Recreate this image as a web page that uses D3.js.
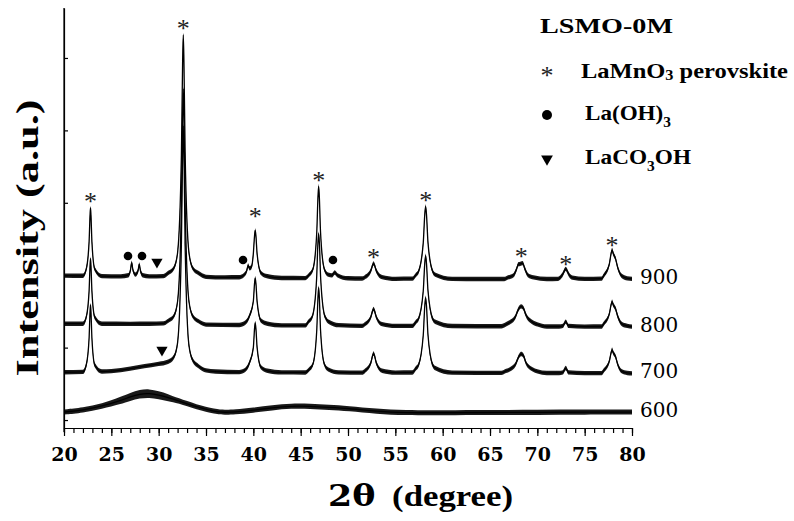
<!DOCTYPE html>
<html lang="en">
<head>
  <meta charset="utf-8"/>
  <script src="https://cdn.jsdelivr.net/npm/d3@7/dist/d3.min.js"></script>
  <style>
    body { margin: 0; background: #fff; }
    svg { display: block; }
    .trace { fill: none; stroke: #000; stroke-width: 1.3px; stroke-linejoin: round; }
    .noise { fill: #000; }
    .axis path, .axis line { stroke: #000; stroke-width: 1.2px; }
    .tick-label { font-family: "DejaVu Serif", serif; font-weight: bold; font-size: 19px; fill: #000; }
    .temp-label { font-family: "DejaVu Serif", serif; font-size: 20px; fill: #000; }
    .bold-serif { font-family: "Liberation Serif", "Times New Roman", serif; font-weight: bold; fill: #000; }
    .star { font-family: "Liberation Serif", serif; font-size: 26px; fill: #222; }
  </style>
</head>
<body>
<div id="chart"></div>
<script>
// 2-theta range and tick values
const thetaDomain = [20, 80];
const majorTicks = [20, 25, 30, 35, 40, 45, 50, 55, 60, 65, 70, 75, 80];
const intensityTicks = [0, 1000, 2000, 3000, 4000, 5000];

// sample temperatures, vertical offsets of their patterns (counts), noise half-amplitude
const temps = ["600", "700", "800", "900"];
const offsets = [0, 600, 1250, 1900];
const noiseAmp = [35, 30, 30, 30];

// patterns: [2theta, intensity above offset, (noise)]
const t600 = [[20,110],[22,135],[24,190],[26,270,50],[27,320,55],[28,360,60],[29,370,60],[30,345,55],
  [31,310,50],[32,270],[34,180],[36,115],[37,105],[38,110],[40,135],[42,170],[44,195],[46,190],[48,175],
  [50,160],[53,120],[56,100],[60,100],[65,105],[70,105],[75,110],[80,110]];

const t700 = [[20,60],[22.0,65],
  [22.35,160],[22.65,530],[22.75,890],[22.8,990],[22.85,890],[22.95,530],[23.25,160],
  [24,70],[26,90],[27,110],[28.5,145],[30,175],[31.0,205],[31.6,270],[32.0,470],[32.4,1820],[32.53,3100],
  [32.6,3460],[32.67,3100],[32.8,1790],[33.2,430],[33.6,225],[34.2,145],
  [35,85],[36,70],[38.5,62],
  [39.2,100],[39.6,195],[40.0,400],[40.13,665],[40.2,740],[40.27,665],[40.4,400],[40.8,130],[41.5,80],
  [43,58],[45.5,57],
  [45.9,100],[46.3,172],[46.7,640],[46.83,1100],[46.9,1227],[46.97,1100],[47.1,640],[47.5,172],[47.9,100],
  [49,58],[51.5,55],
  [51.8,80],[52.4,185],[52.6,290],[52.7,320],[52.8,290],[53.0,185],[53.6,80],
  [55,55],[56.8,57],
  [57.2,118],[57.45,160],[57.95,575],[58.11,977],[58.2,1090],[58.29,977],[58.45,575],[58.95,160],[59.2,118],
  [61,55],[66.2,52],
  [66.7,78],[67.1,100],[67.7,170],[67.9,235],[68.1,290],[68.3,312],[68.55,285],[68.8,190],[69.5,100],[70,72],
  [71,50],[72.3,50],
  [72.7,58],[73.0,118],[73.3,58],
  [75,48],[76.8,48],
  [77.0,80],[77.6,210],[77.8,335],[77.9,370],[78.0,335],[78.25,280],[78.5,165],[78.9,75],[79.5,50],[80,45]];

const t800 = [[20,80],[22.0,80],
  [22.35,170],[22.65,530],[22.75,881],[22.8,980],[22.85,881],[22.95,530],[23.25,170],
  [24,80],[27,78],[29,80],[30.5,84],
  [31.0,120],[31.6,185],[32.0,390],[32.4,1690],[32.53,2960],[32.6,3320],[32.67,2960],[32.8,1690],[33.2,390],
  [33.6,185],[34.2,115],
  [35,68],[38.5,62],
  [39.2,100],[39.6,190],[40.0,390],[40.13,640],[40.2,710],[40.27,640],[40.4,385],[40.8,125],[41.5,80],
  [43,58],[45.5,57],
  [45.8,104],[46.24,182],[46.68,690],[46.82,1185],[46.9,1325],[46.98,1185],[47.12,690],[47.56,182],[48.0,104],
  [49,60],[51.5,50],
  [51.8,74],[52.4,168],[52.6,259],[52.7,285],[52.8,259],[53.0,168],[53.6,74],
  [55,50],[56.8,50],
  [57.2,107],[57.45,147],[57.95,535],[58.11,913],[58.2,1020],[58.29,913],[58.45,535],[58.95,147],[59.2,107],
  [61,48],[66.2,45],
  [66.7,73],[67.1,100],[67.7,180],[67.9,250],[68.1,300],[68.3,320],[68.55,290],[68.8,200],[69.5,100],[70,70],
  [71,42],[72.3,42],
  [72.7,50],[73.0,110],[73.3,50],
  [75,40],[76.8,42],
  [77.0,76],[77.6,212],[77.8,347],[77.9,385],[78.0,347],[78.25,290],[78.5,180],[78.9,80],[79.5,50],[80,40]];

const t900 = [[20,95],[22.0,92],
  [22.35,184],[22.65,560],[22.75,927],[22.8,1030],[22.85,927],[22.95,560],[23.25,184],
  [24,88],[26,84],
  [26.8,100],[27.03,178],[27.11,252],[27.15,273],[27.19,252],[27.27,178],
  [27.55,108],
  [27.83,165],[27.91,230],[27.95,248],[27.99,230],[28.07,165],[28.31,100],
  [29,84],[30.5,88],[31.0,130],[31.6,198],[32.0,412],[32.4,1748],[32.53,3048],[32.6,3418],[32.67,3048],
  [32.8,1748],[33.2,412],[33.6,198],[34.2,130],
  [35,78],[37,70],[38.5,72],
  [39.0,102],[39.3,160],[39.45,236],[39.6,194],[39.8,213],[40.0,398],[40.13,648],[40.2,718],[40.27,648],
  [40.4,393],[40.8,133],[41.5,85],
  [43,62],[45.5,60],
  [45.9,107],[46.3,185],[46.7,693],[46.83,1188],[46.9,1328],[46.97,1188],[47.1,693],[47.5,185],[47.9,107],
  [48.3,98],[48.6,138],[48.9,98],
  [50,58],[51.5,55],
  [51.8,74],[52.4,158],[52.6,240],[52.7,263],[52.8,240],[53.0,158],[53.6,74],
  [55,50],[56.8,52],
  [57.2,109],[57.45,150],[57.95,550],[58.11,940],[58.2,1050],[58.29,940],[58.45,550],[58.95,150],[59.2,109],
  [61,50],[64,47],[66.5,47],
  [66.9,69],[67.5,102],[67.8,182],[68.0,252],[68.2,257],[68.45,267],[68.7,182],[69.0,102],[69.6,69],
  [71,47],[72.2,50],
  [72.4,67],[72.7,117],[72.9,172],[73.0,187],[73.1,172],[73.3,117],[73.7,67],
  [75,49],[76.8,52],
  [77.0,90],[77.6,250],[77.8,406],[77.9,450],[78.0,406],[78.25,332],[78.5,202],[78.9,92],[79.5,57],[80,50]];

const traces = [t600, t700, t800, t900];

// phase markers: [2theta, absolute intensity]
const starMarks = [[22.8,3066],[32.6,5455],[40.2,2859],[46.9,3356],[52.7,2292],[58.2,3080],
  [68.3,2306],[73.0,2196],[77.9,2458]];
const circleMarks = [[26.76,2265],[28.24,2265],[38.91,2210],[48.41,2210]];
const triangleMarks = [[29.82,2182],[30.35,967]];

const width = 794, height = 521;
const svg = d3.select("#chart").append("svg")
  .attr("width", width)
  .attr("height", height);

const x = d3.scaleLinear().domain(thetaDomain).range([64, 632]);
const y = d3.scaleLinear().domain([-110, 5690]).range([428, 8]);

// patterns: noise band + line
traces.forEach((data, i) => {
  const off = offsets[i];
  const amp = d => (d[2] !== undefined ? d[2] : noiseAmp[i]);
  const curve = i === 0 ? d3.curveBasis : d3.curveMonotoneX;
  const area = d3.area()
    .x(d => x(d[0]))
    .y0(d => y(off + d[1] - amp(d)))
    .y1(d => y(off + d[1] + amp(d)))
    .curve(curve);
  const line = d3.line()
    .x(d => x(d[0]))
    .y(d => y(off + d[1]))
    .curve(curve);
  svg.append("path").attr("class", "noise").attr("d", area(data)).attr("opacity", 0.9);
  svg.append("path").attr("class", "trace").attr("d", line(data));

  const last = data[data.length - 1];
  svg.append("text")
    .attr("class", "temp-label")
    .attr("x", 640)
    .attr("y", y(off + last[1]) - 2)
    .attr("dominant-baseline", "central")
    .text(temps[i]);
});

// x axis
const minorTicks = d3.range(thetaDomain[0], thetaDomain[1] + 1, 1);
svg.append("g")
  .attr("class", "axis")
  .attr("transform", "translate(0,428)")
  .call(d3.axisBottom(x).tickValues(minorTicks).tickSize(5).tickFormat("").tickSizeOuter(0));
const xAxis = svg.append("g")
  .attr("class", "axis")
  .attr("transform", "translate(0,428)")
  .call(d3.axisBottom(x).tickValues(majorTicks).tickSize(8).tickSizeOuter(0));
xAxis.selectAll("text")
  .attr("class", "tick-label")
  .attr("y", 20)
  .attr("dy", "0.71em");

// y axis (ticks only, inside)
svg.append("g")
  .attr("class", "axis")
  .attr("transform", "translate(64,0)")
  .call(d3.axisRight(y).tickValues(intensityTicks).tickSize(4).tickFormat("").tickSizeOuter(0));
svg.append("line")
  .attr("x1", 64).attr("x2", 64)
  .attr("y1", y.range()[1]).attr("y2", y.range()[0] + 4)
  .attr("stroke", "#000").attr("stroke-width", 1.2);

// phase markers
svg.selectAll(".star-mark").data(starMarks).enter()
  .append("text")
  .attr("class", "star")
  .attr("x", d => x(d[0]))
  .attr("y", d => y(d[1]))
  .attr("dy", "0.46em")
  .attr("text-anchor", "middle")
  .text("*");
svg.selectAll(".circle-mark").data(circleMarks).enter()
  .append("circle")
  .attr("cx", d => x(d[0]))
  .attr("cy", d => y(d[1]))
  .attr("r", 4.3)
  .attr("fill", "#000");
const tri = d3.symbol().type(d3.symbolTriangle).size(55);
svg.selectAll(".tri-mark").data(triangleMarks).enter()
  .append("path")
  .attr("d", tri)
  .attr("transform", d => `translate(${x(d[0])},${y(d[1])}) rotate(180)`)
  .attr("fill", "#000");

// axis titles
svg.append("text")
  .attr("class", "bold-serif")
  .attr("transform", "translate(38,238) rotate(-90)")
  .attr("text-anchor", "middle")
  .attr("font-size", 32)
  .attr("textLength", 277)
  .attr("lengthAdjust", "spacingAndGlyphs")
  .text("Intensity (a.u.)");

const xt = svg.append("text")
  .attr("x", 328)
  .attr("y", 506)
  .attr("font-size", 29)
  .attr("textLength", 185)
  .attr("lengthAdjust", "spacingAndGlyphs");
xt.append("tspan")
  .attr("font-family", "DejaVu Serif, serif")
  .attr("font-weight", "bold")
  .text("2θ");
xt.append("tspan")
  .attr("class", "bold-serif")
  .attr("dx", 14)
  .text("(degree)");

// legend
svg.append("text")
  .attr("class", "bold-serif")
  .attr("x", 540).attr("y", 33)
  .attr("font-size", 22)
  .attr("textLength", 133)
  .attr("lengthAdjust", "spacingAndGlyphs")
  .text("LSMO-0M");

svg.append("text")
  .attr("class", "star")
  .attr("x", 547).attr("y", 72)
  .attr("dy", "0.46em")
  .attr("text-anchor", "middle")
  .text("*");
svg.append("circle").attr("cx", 547).attr("cy", 115).attr("r", 5).attr("fill", "#000");
svg.append("path")
  .attr("d", d3.symbol().type(d3.symbolTriangle).size(60))
  .attr("transform", "translate(547,159) rotate(180)")
  .attr("fill", "#000");

function legendText(xp, yp, len, parts) {
  const t = svg.append("text")
    .attr("class", "bold-serif")
    .attr("x", xp).attr("y", yp)
    .attr("font-size", 21)
    .attr("textLength", len)
    .attr("lengthAdjust", "spacingAndGlyphs");
  parts.forEach(p => {
    const s = t.append("tspan").text(p[0]);
    if (p[1]) s.attr("font-size", 14).attr("dy", p[1]);
    if (p[2]) s.attr("dy", p[2]);
  });
}
legendText(581, 78, 207, [["LaMnO"], ["3", 2], [" perovskite", 0, -2]]);
legendText(585, 120, 86, [["La(OH)"], ["3", 7]]);
legendText(585, 164, 106, [["LaCO"], ["3", 7], ["OH", 0, -7]]);
</script>
</body>
</html>
